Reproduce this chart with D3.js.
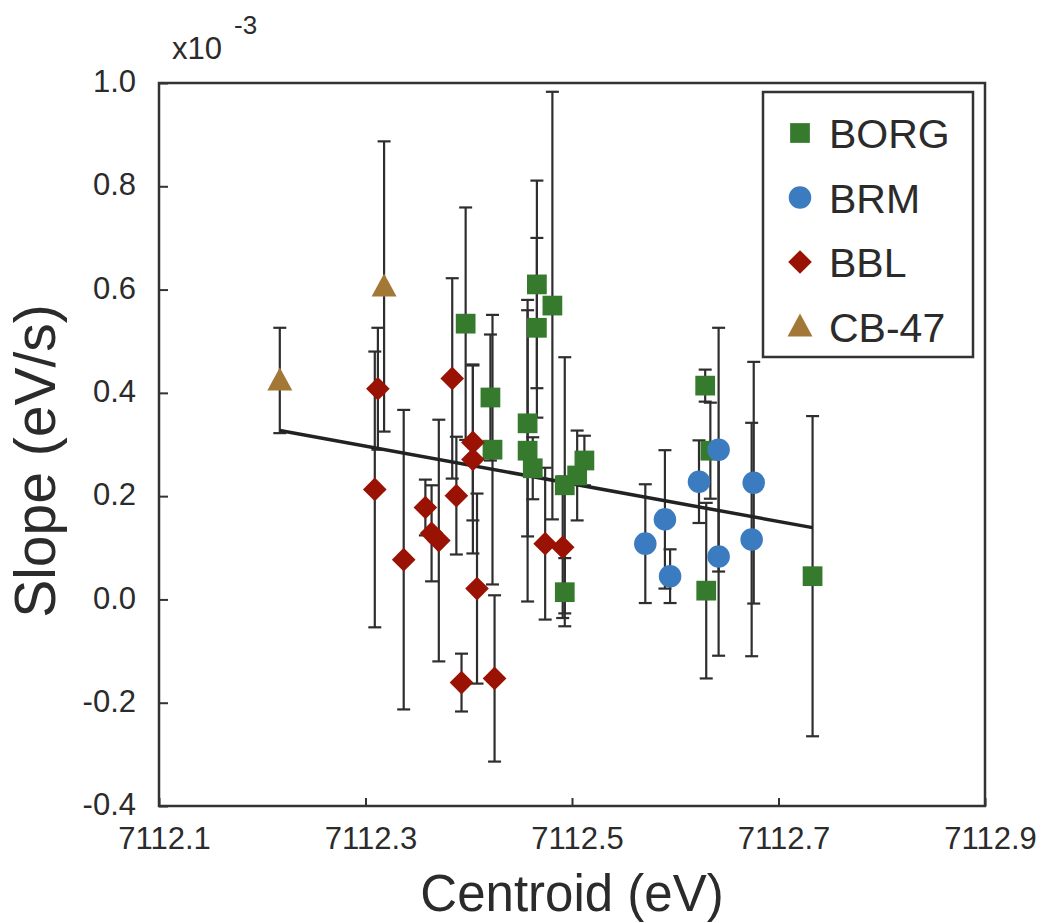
<!DOCTYPE html>
<html>
<head>
<meta charset="utf-8">
<script src="https://cdn.jsdelivr.net/npm/d3@7"></script>
<style>
  body { margin: 0; background: #fff; }
  svg text { font-family: "Liberation Sans", Arial, Helvetica, sans-serif; fill: #2b2b2b; }
</style>
</head>
<body>
<div class="visHolder"></div>
<script>
// values, slope in units of 1e-3 eV/s
var borgX = [7112.397, 7112.466, 7112.466, 7112.481, 7112.421, 7112.423, 7112.457, 7112.457, 7112.462,
             7112.493, 7112.505, 7112.512, 7112.493, 7112.629, 7112.634, 7112.630, 7112.733];
var borgY = [0.534, 0.610, 0.526, 0.569, 0.391, 0.290, 0.341, 0.288, 0.254,
             0.221, 0.240, 0.269, 0.014, 0.414, 0.288, 0.017, 0.045];
var borgErr = [0.225, 0.201, 0.174, 0.414, 0.122, 0.261, 0.219, 0.292, 0.060,
               0.248, 0.087, 0.048, 0.066, 0.031, 0.093, 0.170, 0.310];

var brmX = [7112.571, 7112.590, 7112.595, 7112.623, 7112.642, 7112.642, 7112.676, 7112.674];
var brmY = [0.108, 0.155, 0.045, 0.228, 0.290, 0.083, 0.226, 0.116];
var brmErr = [0.115, 0.134, 0.052, 0.080, 0.236, 0.192, 0.234, 0.226];

var bblX = [7112.312, 7112.309, 7112.337, 7112.358, 7112.364, 7112.371, 7112.384, 7112.388,
            7112.404, 7112.404, 7112.408, 7112.393, 7112.425, 7112.474, 7112.491];
var bblY = [0.408, 0.213, 0.077, 0.178, 0.128, 0.114, 0.428, 0.201,
            0.304, 0.271, 0.021, -0.161, -0.153, 0.108, 0.101];
var bblErr = [0.118, 0.267, 0.290, 0.054, 0.093, 0.234, 0.194, 0.114,
              0.151, 0.182, 0.184, 0.056, 0.161, 0.147, 0.137];

var cbX = [7112.217, 7112.318];
var cbY = [0.424, 0.606];
var cbErr = [0.102, 0.281];

var fitX = [7112.217, 7112.733];
var fitY = [0.327, 0.139];

var xTicks = [7112.1, 7112.3, 7112.5, 7112.7, 7112.9];
var yTicks = [-0.4, -0.2, 0.0, 0.2, 0.4, 0.6, 0.8, 1.0];
var seriesNames = ["BORG", "BRM", "BBL", "CB-47"];

var width = 1045, height = 923;
var plotL = 159, plotR = 985, plotT = 83, plotB = 806;

var svg = d3.select('.visHolder')
  .append('svg')
  .attr('width', width)
  .attr('height', height);

var xScale = d3.scaleLinear().domain([7112.1, 7112.9]).range([plotL, plotR]);
var yScale = d3.scaleLinear().domain([-0.4, 1.0]).range([plotB, plotT]);

var ink = '#333';

var xAxis = d3.axisBottom(xScale).tickValues(xTicks).tickSize(-8).tickSizeOuter(0)
  .tickPadding(21).tickFormat(d => d.toFixed(1));
var yAxis = d3.axisLeft(yScale).tickValues(yTicks).tickSize(-9).tickSizeOuter(0)
  .tickPadding(23).tickFormat(d => d.toFixed(1));

var gx = svg.append('g').attr('transform', 'translate(0,' + plotB + ')').call(xAxis);
var gy = svg.append('g').attr('transform', 'translate(' + plotL + ',0)').call(yAxis);
[gx, gy].forEach(function (g) {
  g.select('.domain').remove();
  g.selectAll('line').attr('stroke', ink).attr('stroke-width', 2);
  g.selectAll('text').style('font-size', '31px').attr('fill', '#2b2b2b');
});
gx.selectAll('text').attr('dx', 5);
gy.selectAll('text').attr('dy', '0.28em');

svg.append('rect')
  .attr('x', plotL).attr('y', plotT)
  .attr('width', plotR - plotL).attr('height', plotB - plotT)
  .attr('fill', 'none').attr('stroke', ink).attr('stroke-width', 2.5);

// exponent label
var expo = svg.append('text').attr('x', 172).attr('y', 59).style('font-size', '31px');
expo.append('tspan').text('x10');
expo.append('tspan').attr('dx', 12).attr('dy', -25).style('font-size', '26px').text('-3');

svg.append('text')
  .attr('transform', 'translate(55,461) rotate(-90)')
  .attr('text-anchor', 'middle')
  .style('font-size', '57px')
  .text('Slope (eV/s)');

svg.append('text')
  .attr('x', 572).attr('y', 911)
  .attr('text-anchor', 'middle')
  .style('font-size', '51px')
  .text('Centroid (eV)');

function pack(xs, ys, es) {
  return xs.map((x, i) => ({ x: x, y: ys[i], e: es[i] }));
}

var series = [
  { name: "BORG", data: pack(borgX, borgY, borgErr), color: '#367a2e', type: 'square' },
  { name: "BBL", data: pack(bblX, bblY, bblErr), color: '#9a1203', type: 'diamond' },
  { name: "CB-47", data: pack(cbX, cbY, cbErr), color: '#a37837', type: 'triangle' },
  { name: "BRM", data: pack(brmX, brmY, brmErr), color: '#3b7cc0', type: 'circle' }
];

function symbolPath(type) {
  if (type === 'square') return d3.symbol().type(d3.symbolSquare).size(390)();
  if (type === 'circle') return d3.symbol().type(d3.symbolCircle).size(400)();
  if (type === 'diamond') return d3.symbol().type(d3.symbolSquare).size(280)();
  return 'M0,-13L12.5,10L-12.5,10Z';
}

// error bars first
var capW = 6.5;
series.forEach(function (s) {
  var eb = svg.append('g').attr('stroke', '#2e2e2e').attr('stroke-width', 2.2).attr('fill', 'none');
  eb.selectAll('line.v').data(s.data).enter().append('line')
    .attr('x1', d => xScale(d.x)).attr('x2', d => xScale(d.x))
    .attr('y1', d => yScale(d.y + d.e)).attr('y2', d => yScale(d.y - d.e));
  eb.selectAll('line.t').data(s.data).enter().append('line')
    .attr('x1', d => xScale(d.x) - capW).attr('x2', d => xScale(d.x) + capW)
    .attr('y1', d => yScale(d.y + d.e)).attr('y2', d => yScale(d.y + d.e));
  eb.selectAll('line.b').data(s.data).enter().append('line')
    .attr('x1', d => xScale(d.x) - capW).attr('x2', d => xScale(d.x) + capW)
    .attr('y1', d => yScale(d.y - d.e)).attr('y2', d => yScale(d.y - d.e));
});

// fitted line
svg.append('path')
  .datum(fitX.map((x, i) => [x, fitY[i]]))
  .attr('d', d3.line().x(d => xScale(d[0])).y(d => yScale(d[1])))
  .attr('stroke', '#222').attr('stroke-width', 3.5).attr('fill', 'none');

series.forEach(function (s) {
  svg.append('g').selectAll('path').data(s.data).enter().append('path')
    .attr('d', symbolPath(s.type))
    .attr('transform', d => 'translate(' + xScale(d.x) + ',' + yScale(d.y) + ')' + (s.type === 'diamond' ? ' rotate(45)' : ''))
    .attr('fill', s.color);
});

// legend
var legend = svg.append('g');
legend.append('rect')
  .attr('x', 763).attr('y', 92).attr('width', 210).attr('height', 265)
  .attr('fill', '#fff').attr('stroke', ink).attr('stroke-width', 2.5);
seriesNames.forEach(function (name, i) {
  var s = series.find(t => t.name === name);
  var cy = 133 + i * 64.5;
  legend.append('path')
    .attr('d', symbolPath(s.type))
    .attr('transform', 'translate(800,' + cy + ')' + (s.type === 'diamond' ? ' rotate(45)' : ''))
    .attr('fill', s.color);
  legend.append('text')
    .attr('x', 829).attr('y', cy + 15)
    .style('font-size', '41px')
    .text(name);
});
</script>
</body>
</html>
